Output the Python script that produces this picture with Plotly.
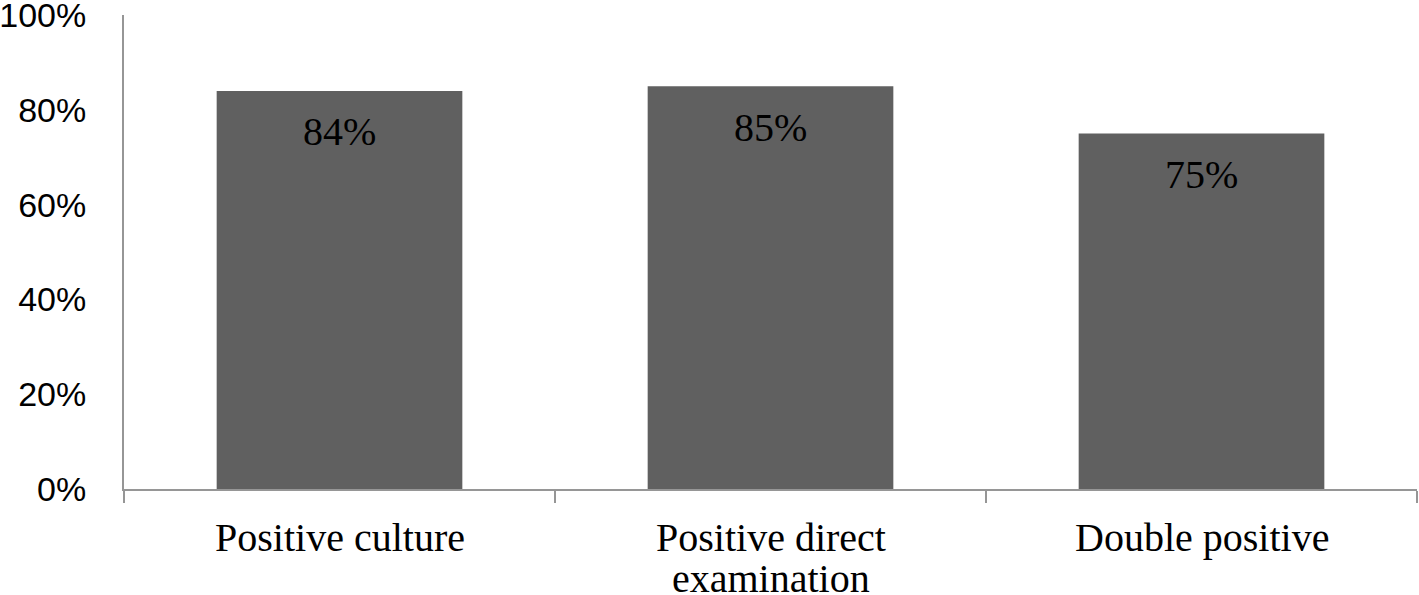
import plotly.graph_objects as go

# datos
categorias = ["Positive culture", "Positive direct examination", "Double positive"]
lineas_x = [["Positive culture"], ["Positive direct", "examination"], ["Double positive"]]
valores = [0.84, 0.85, 0.75]
etiquetas = ["84%", "85%", "75%"]
ticks_y = [0, 0.2, 0.4, 0.6, 0.8, 1.0]
ticks_y_txt = ["0%", "20%", "40%", "60%", "80%", "100%"]

fig = go.Figure(go.Bar(x=categorias, y=valores, marker_color="#606060",
                       marker_line_width=0, showlegend=False))

serif = dict(family="Liberation Serif", size=40, color="black")

# etiquetas dentro de las barras
for c, v, t in zip(categorias, valores, etiquetas):
    fig.add_annotation(x=c, y=v, text=t, showarrow=False, yanchor="middle",
                       yshift=-41, font=serif)

# etiquetas del eje x (interlineado controlado)
for c, lineas in zip(categorias, lineas_x):
    for i, l in enumerate(lineas):
        fig.add_annotation(x=c, y=0, text=l, showarrow=False, yanchor="middle",
                           yshift=-48 - 41 * i, font=serif)

fig.update_layout(
    width=1419, height=595,
    margin=dict(l=124, r=2, t=15, b=106),
    paper_bgcolor="white", plot_bgcolor="white",
    bargap=0.43,
)
fig.update_xaxes(showline=True, linecolor="#969696", linewidth=2,
                 tickson="boundaries", ticks="outside", ticklen=12, tickcolor="#969696", tickwidth=2,
                 showticklabels=False, showgrid=False, automargin=False)
fig.update_yaxes(range=[0, 1.0001], tickvals=ticks_y, ticktext=ticks_y_txt,
                 showline=True, linecolor="#969696", linewidth=2, ticks="",
                 tickfont=dict(family="Liberation Sans", size=34, color="black"),
                 ticklabelstandoff=29, ticklabeloverflow="allow",
                 showgrid=False, zeroline=False, automargin=False)

# quitar el margen del body para que la figura ocupe toda la ventana
fig.write_html("out.html", config={"displayModeBar": False},
               post_script="document.body.style.margin='0';")
